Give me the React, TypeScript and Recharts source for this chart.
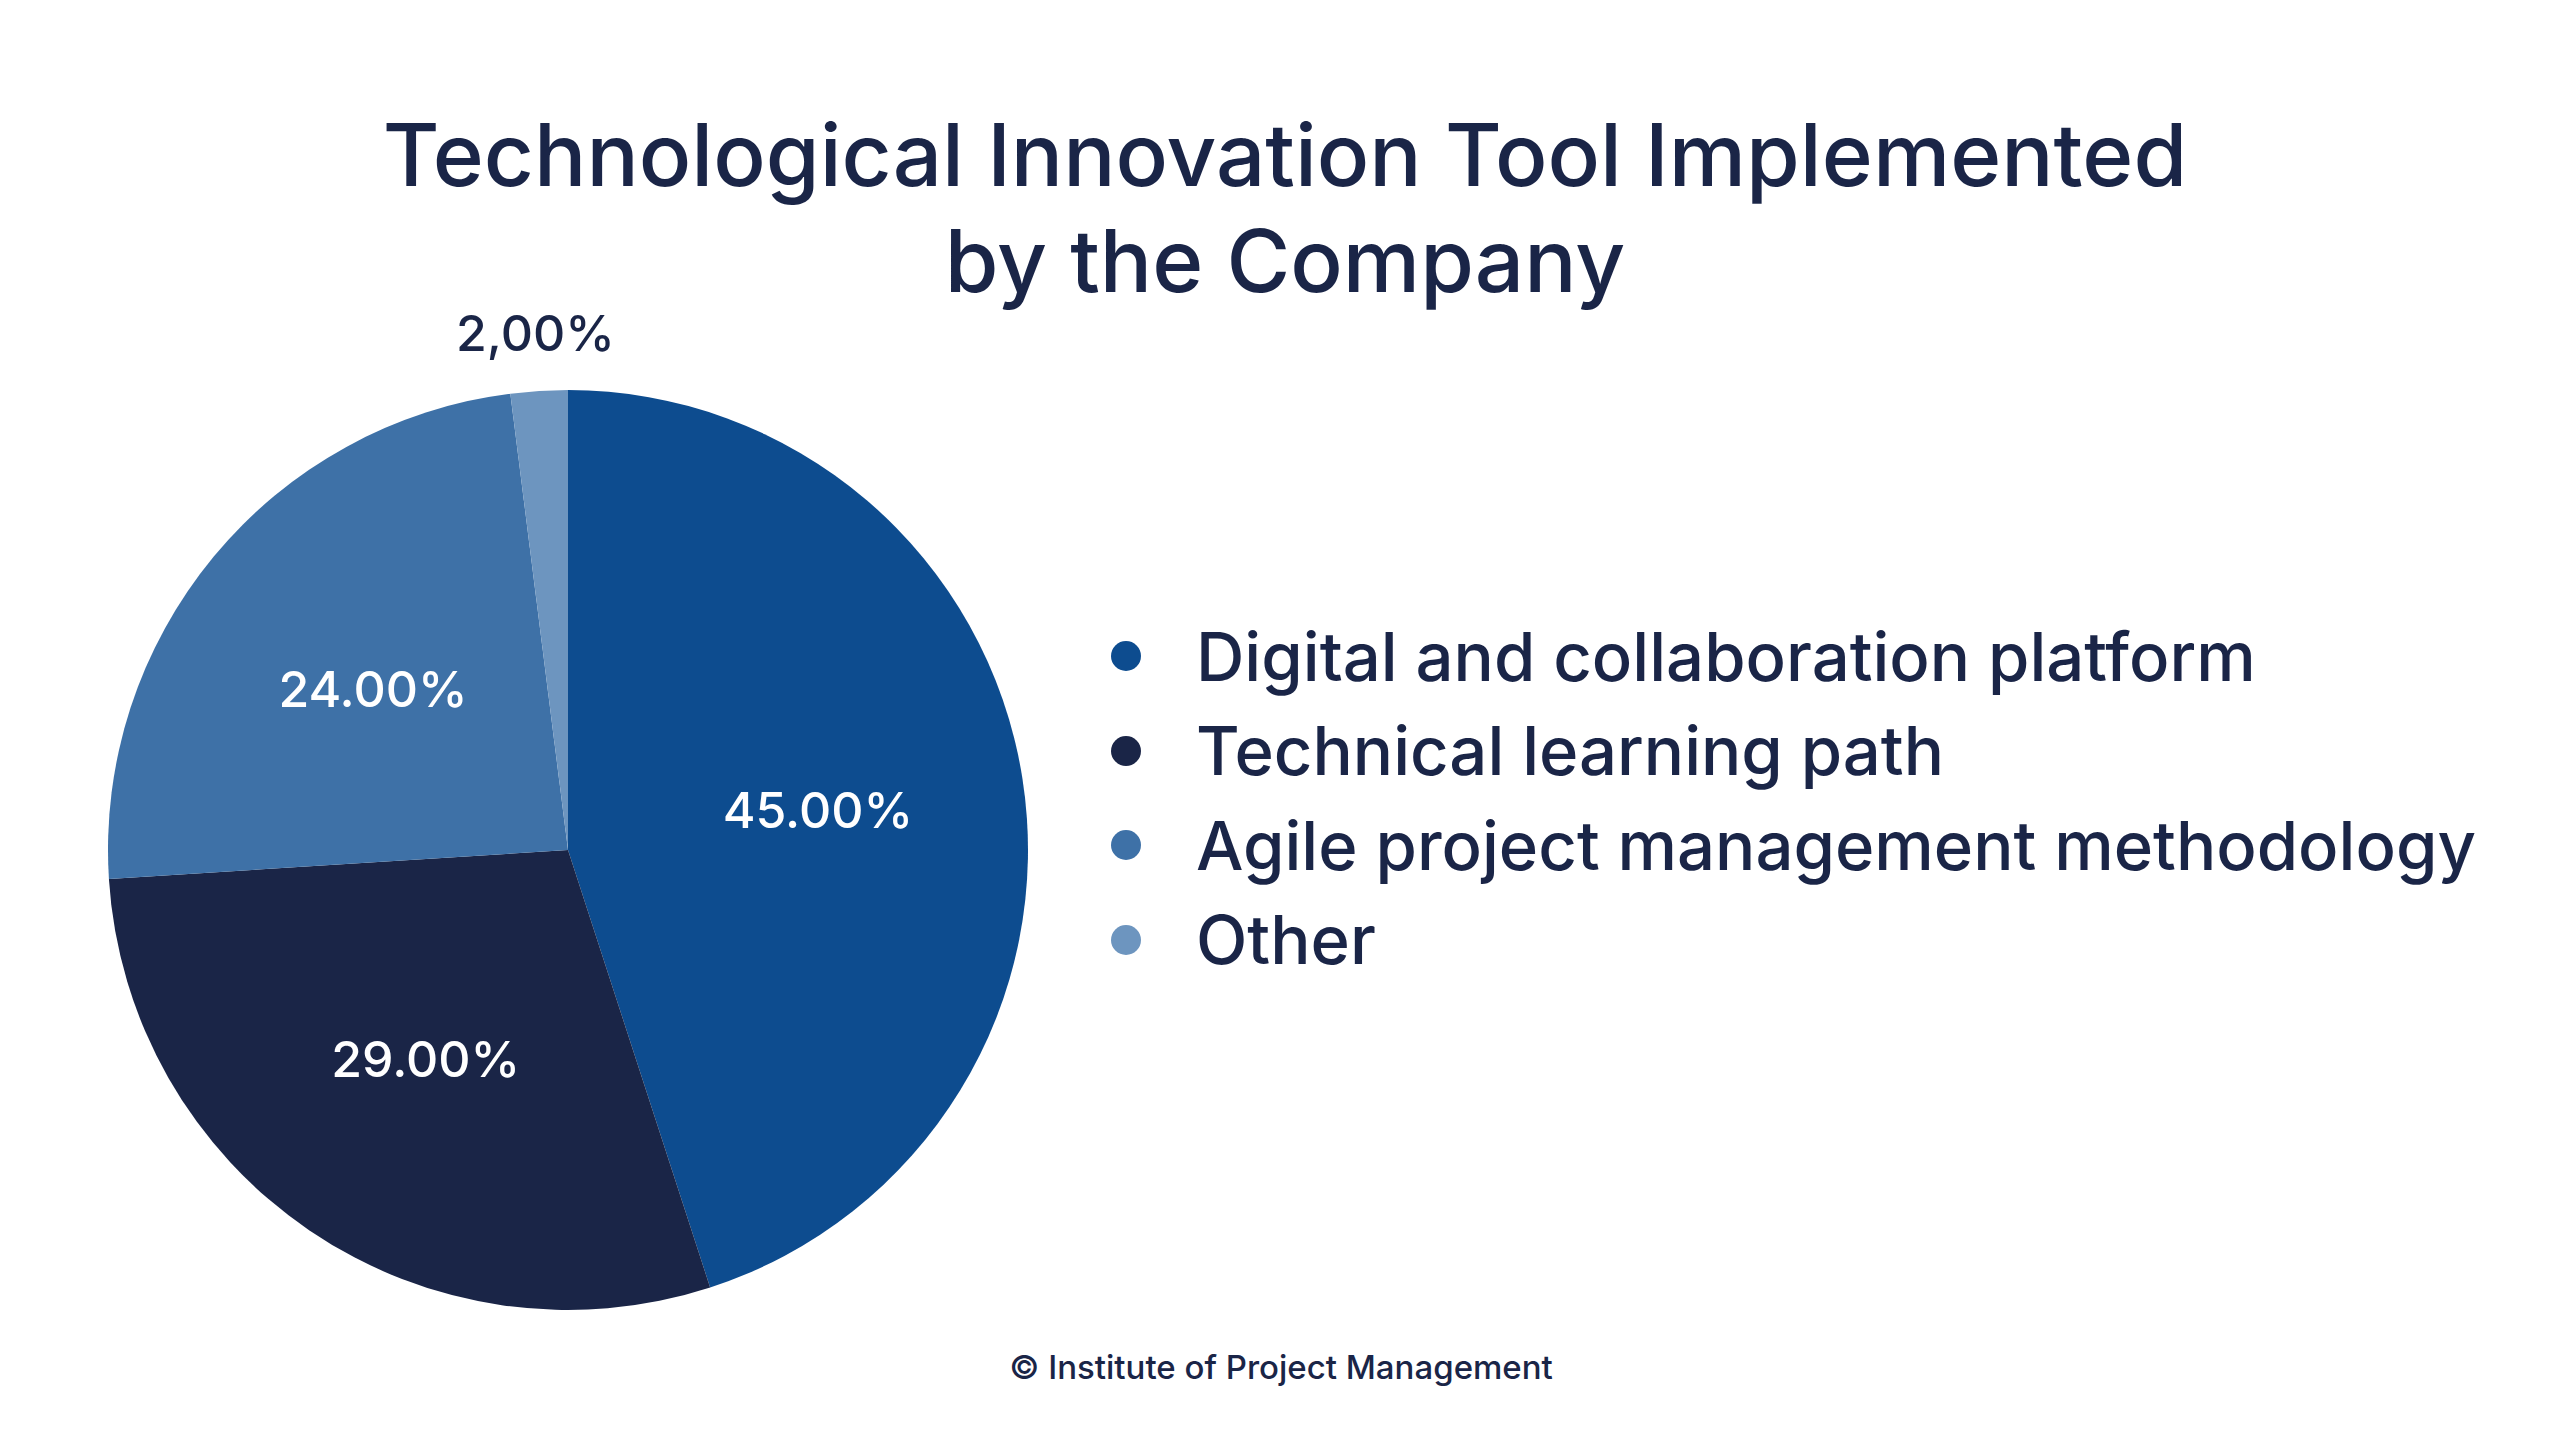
import React from "react";
import { PieChart, Pie, Cell, Legend } from "recharts";

const categories = [
  "Digital and collaboration platform",
  "Technical learning path",
  "Agile project management methodology",
  "Other",
];
const shares = [45, 29, 24, 2];
const shareLabels = ["45.00%", "29.00%", "24.00%", "2,00%"];
const colors = ["#0d4c8f", "#1a2547", "#3e71a7", "#6d95bf"];
const titleLines = ["Technological Innovation Tool Implemented", "by the Company"];

const data = categories.map((name, i) => ({ name, value: shares[i] }));

const INK = "#1a2547";
const FONT = "Inter, 'Noto Sans', sans-serif";
const RADIAN = Math.PI / 180;

function renderLabel(props: any) {
  const { cx, cy, midAngle, outerRadius, index, value } = props;
  const outside = value < 5;
  const r = outside ? outerRadius + 58 : outerRadius * 0.55;
  const x = cx + r * Math.cos(-midAngle * RADIAN);
  const y = cy + r * Math.sin(-midAngle * RADIAN);
  return (
    <text
      x={x}
      y={y}
      fill={outside ? INK : "#ffffff"}
      textAnchor="middle"
      dominantBaseline="central"
      fontSize={50}
      fontWeight={500}
      fontFamily={FONT}
    >
      {shareLabels[index]}
    </text>
  );
}

// legend keeps the slice order instead of the default alphabetical sort
function renderLegend() {
  return (
    <div style={{ fontFamily: FONT }}>
      {categories.map((name, i) => (
        <div
          key={name}
          style={{
            display: "flex",
            alignItems: "center",
            height: 94.5,
            fontSize: 67,
            fontWeight: 500,
            color: INK,
            whiteSpace: "nowrap",
          }}
        >
          <span
            style={{
              display: "inline-block",
              width: 30,
              height: 30,
              borderRadius: "50%",
              background: colors[i],
              marginRight: 55,
            }}
          />
          {name}
        </div>
      ))}
    </div>
  );
}

export default function App() {
  return (
    <div
      style={{
        position: "absolute",
        left: 0,
        top: 0,
        width: 2560,
        height: 1440,
        background: "#ffffff",
        fontFamily: FONT,
        color: INK,
      }}
    >
      <div style={{ position: "absolute", left: 0, top: 102, width: 2570, textAlign: "center" }}>
        {titleLines.map((line) => (
          <div key={line} style={{ fontSize: 87, fontWeight: 500, lineHeight: "106px", height: 106 }}>
            {line}
          </div>
        ))}
      </div>
      <PieChart width={2560} height={1440} margin={{ top: 0, right: 0, bottom: 0, left: 0 }}>
        <Pie
          data={data}
          dataKey="value"
          nameKey="name"
          cx={568}
          cy={850}
          outerRadius={460}
          startAngle={90}
          endAngle={-270}
          stroke="none"
          label={renderLabel}
          labelLine={false}
          isAnimationActive={false}
        >
          {data.map((d, i) => (
            <Cell key={d.name} fill={colors[i]} />
          ))}
        </Pie>
        <Legend
          layout="vertical"
          content={renderLegend}
          wrapperStyle={{ left: 1111, top: 609, width: 1400 }}
        />
      </PieChart>
      <div
        style={{
          position: "absolute",
          left: 0,
          top: 1347,
          width: 2562,
          textAlign: "center",
          fontSize: 33,
          fontWeight: 500,
        }}
      >
        © Institute of Project Management
      </div>
    </div>
  );
}
